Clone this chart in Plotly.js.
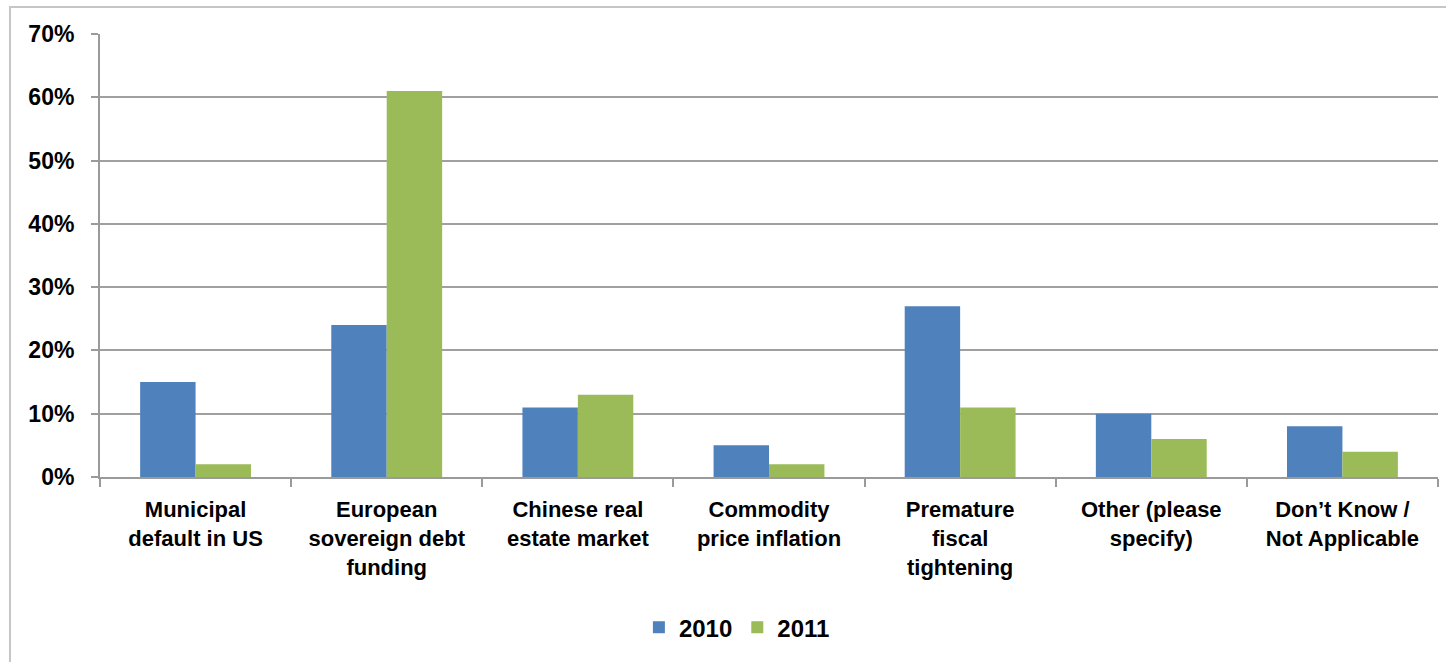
<!DOCTYPE html>
<html>
<head>
<meta charset="utf-8">
<script src="https://cdn.plot.ly/plotly-3.0.1.min.js"></script>
<style>
  html, body { margin: 0; padding: 0; background: #fff; }
  #wrap { position: relative; width: 1446px; height: 662px; overflow: hidden; }
  #frame { position: absolute; left: 9px; top: 6px; width: 1460px; height: 700px;
           border-left: 2px solid #c6c6c6; border-top: 2px solid #c6c6c6; pointer-events: none; }
  #chart { position: absolute; left: 0; top: 0; width: 1446px; height: 662px; }
</style>
</head>
<body>
<div id="wrap">
  <div id="chart"></div>
  <div id="frame"></div>
</div>
<script>
const categories = [
  "Municipal<br>default in US",
  "European<br>sovereign debt<br>funding",
  "Chinese real<br>estate market",
  "Commodity<br>price inflation",
  "Premature<br>fiscal<br>tightening",
  "Other (please<br>specify)",
  "Don’t Know /<br>Not Applicable"
];
const values2010 = [0.15, 0.24, 0.11, 0.05, 0.27, 0.10, 0.08];
const values2011 = [0.02, 0.61, 0.13, 0.02, 0.11, 0.06, 0.04];
const seriesNames = ["2010", "2011"];
const yTickVals = [0, 0.1, 0.2, 0.3, 0.4, 0.5, 0.6, 0.7];

const font = "Liberation Sans, Arial, sans-serif";

const data = [
  { type: "bar", name: seriesNames[0], x: categories, y: values2010,
    marker: { color: "#4F81BD", line: { width: 0 } } },
  { type: "bar", name: seriesNames[1], x: categories, y: values2011,
    marker: { color: "#9BBB59", line: { width: 0 } } }
];

const layout = {
  width: 1446, height: 662,
  margin: { l: 100, r: 8, t: 34, b: 185 },
  paper_bgcolor: "#fff", plot_bgcolor: "#fff",
  barmode: "group", bargap: 0.42, bargroupgap: 0,
  font: { family: font, color: "#000" },
  showlegend: true,
  legend: {
    orientation: "h", x: 0.476, xanchor: "center", y: -0.34, yanchor: "middle",
    font: { family: font, size: 24, weight: "bold", color: "#000" },
    itemwidth: 30, traceorder: "normal"
  },
  xaxis: {
    type: "category",
    showline: true, linecolor: "#9a9a9a", linewidth: 2,
    ticks: "outside", tickson: "boundaries", ticklen: 8, tickwidth: 2, tickcolor: "#9a9a9a",
    tickfont: { family: font, size: 22, weight: "bold", color: "#000" },
    ticklabelstandoff: 12,
    showgrid: false, zeroline: false, fixedrange: true
  },
  yaxis: {
    range: [0, 0.7], tickvals: yTickVals, tickformat: ".0%",
    showline: true, linecolor: "#9a9a9a", linewidth: 2,
    ticks: "outside", ticklen: 7, tickwidth: 2, tickcolor: "#9a9a9a",
    showgrid: true, gridcolor: "#a0a0a0", gridwidth: 2,
    zeroline: false,
    tickfont: { family: font, size: 23, weight: "bold", color: "#000" },
    ticklabelstandoff: 12, fixedrange: true
  }
};

Plotly.newPlot("chart", data, layout, { displayModeBar: false, staticPlot: true });
</script>
</body>
</html>
